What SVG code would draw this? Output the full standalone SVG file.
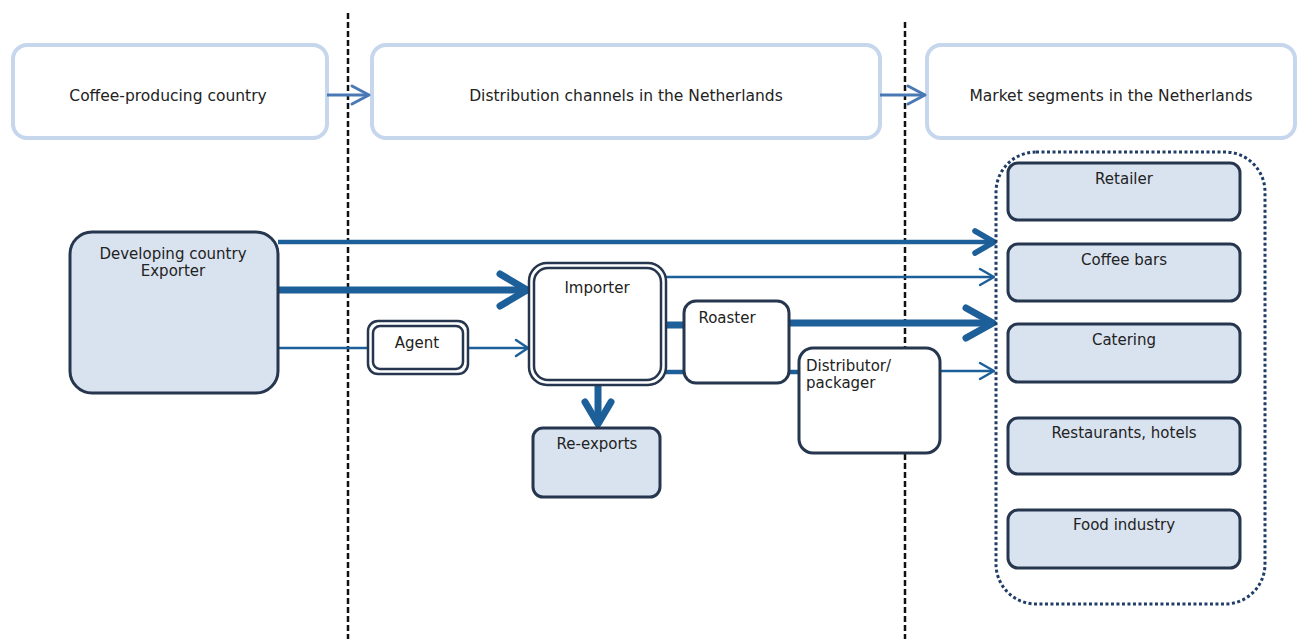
<svg xmlns="http://www.w3.org/2000/svg" width="1300" height="639" viewBox="0 0 1300 639">
<style>
.hdr{fill:#fff;stroke:#c6d6ec;stroke-width:4}
.t{font-family:"DejaVu Sans",Verdana,sans-serif;font-size:15px;fill:#222;text-anchor:middle}
.h{font-size:15.5px}
.tl{text-anchor:start}
.node{stroke:#26364f;stroke-width:3}
.fill{fill:#d9e3f0}
.white{fill:#fff}
.thin{stroke:#1d5f98;stroke-width:2.5;fill:none}
.mid{stroke:#1d5f98;stroke-width:4.5;fill:none}
.thick{stroke:#1d5f98;stroke-width:7;fill:none}
.chev{stroke:#1d5f98;fill:none;stroke-linecap:round;stroke-linejoin:round}
.hline{stroke:#4a78b5;stroke-width:3;fill:none}
.sep{stroke:#111;stroke-width:2.5;stroke-dasharray:6,3;fill:none}
</style>
<rect width="1300" height="639" fill="#fff"/>
<g id="separators">
<line class="sep" x1="348" y1="13" x2="348" y2="639"/>
<line class="sep" x1="905" y1="22" x2="905" y2="639"/>
</g>
<g id="header-producing"><rect class="hdr" x="13" y="45" width="314" height="93" rx="14"/><text class="t h" x="168" y="101">Coffee-producing country</text></g>
<g id="header-distribution"><rect class="hdr" x="372" y="45" width="508" height="93" rx="14"/><text class="t h" x="626" y="101">Distribution channels in the Netherlands</text></g>
<g id="header-market"><rect class="hdr" x="927" y="45" width="368" height="93" rx="14"/><text class="t h" x="1111" y="101">Market segments in the Netherlands</text></g>
<g id="connectors">
<line class="hline" x1="327" y1="95" x2="368" y2="95"/>
<polyline class="chev" stroke-width="3" points="352,86 369,95 352,104" style="stroke:#4a78b5"/>
<line class="hline" x1="880" y1="95" x2="923" y2="95"/>
<polyline class="chev" stroke-width="3" points="908,86 925,95 908,104" style="stroke:#4a78b5"/>
<line class="mid" x1="278" y1="242" x2="993" y2="242"/>
<polyline class="chev" stroke-width="5.5" points="975,231 994,242 975,253"/>
<line class="thick" x1="278" y1="290" x2="528" y2="290"/>
<polyline class="chev" stroke-width="7" points="500,274 527,290 500,306"/>
<line class="thin" x1="278" y1="348" x2="368" y2="348"/>
<line class="thin" x1="468" y1="348" x2="528" y2="348"/>
<polyline class="chev" stroke-width="2.5" points="516,340 528,348 516,356"/>
<line class="thin" x1="666" y1="277" x2="993" y2="277"/>
<polyline class="chev" stroke-width="2.5" points="980,269 994,277 980,285"/>
<line class="thick" x1="666" y1="325" x2="684" y2="325"/>
<line class="mid" x1="666" y1="372" x2="686" y2="372"/>
<line class="mid" x1="789" y1="372" x2="800" y2="372"/>
<line class="thick" x1="789" y1="323" x2="993" y2="323"/>
<polyline class="chev" stroke-width="7" points="966,308 993,323 966,338"/>
<line class="thin" x1="940" y1="371" x2="993" y2="371"/>
<polyline class="chev" stroke-width="2.5" points="980,363 994,371 980,379"/>
<line class="thick" x1="598" y1="385" x2="598" y2="424"/>
<polyline class="chev" stroke-width="7" points="585,402 598,424 611,402"/>
</g>
<g id="exporter"><rect class="node fill" x="70" y="232" width="208" height="161" rx="22"/><text class="t" x="173" y="259">Developing country</text><text class="t" x="173" y="276">Exporter</text></g>
<g id="agent"><rect class="node white" x="368" y="321" width="100" height="53" rx="10" style="stroke-width:2.5"/><rect class="node white" x="373" y="326" width="90" height="43" rx="7" style="stroke-width:2.5"/><text class="t" x="417" y="348">Agent</text></g>
<g id="importer"><rect class="node white" x="529" y="263" width="137" height="122" rx="18" style="stroke-width:2.5"/><rect class="node white" x="534" y="268" width="127" height="112" rx="14" style="stroke-width:2.5"/><text class="t" x="597" y="293">Importer</text></g>
<g id="roaster"><rect class="node white" x="684" y="301" width="105" height="82" rx="12"/><text class="t" x="727" y="323">Roaster</text></g>
<g id="distributor"><rect class="node white" x="799" y="348" width="141" height="105" rx="14"/><text class="t tl" x="806" y="371">Distributor/</text><text class="t tl" x="806" y="388">packager</text></g>
<g id="reexports"><rect class="node fill" x="533" y="428" width="127" height="69" rx="10"/><text class="t" x="597" y="449">Re-exports</text></g>
<g id="market-segments">
<rect x="996" y="152" width="269" height="452" rx="40" fill="none" stroke="#1f3d66" stroke-width="3" stroke-dasharray="3,2.5"/>
<g id="retailer"><rect class="node fill" x="1008" y="163" width="232" height="57" rx="10"/><text class="t" x="1124" y="184">Retailer</text></g>
<g id="coffeebars"><rect class="node fill" x="1008" y="244" width="232" height="57" rx="10"/><text class="t" x="1124" y="265">Coffee bars</text></g>
<g id="catering"><rect class="node fill" x="1008" y="324" width="232" height="58" rx="10"/><text class="t" x="1124" y="345">Catering</text></g>
<g id="restaurants"><rect class="node fill" x="1008" y="418" width="232" height="56" rx="10"/><text class="t" x="1124" y="438">Restaurants, hotels</text></g>
<g id="food"><rect class="node fill" x="1008" y="510" width="232" height="58" rx="10"/><text class="t" x="1124" y="530">Food industry</text></g>
</g>
</svg>
